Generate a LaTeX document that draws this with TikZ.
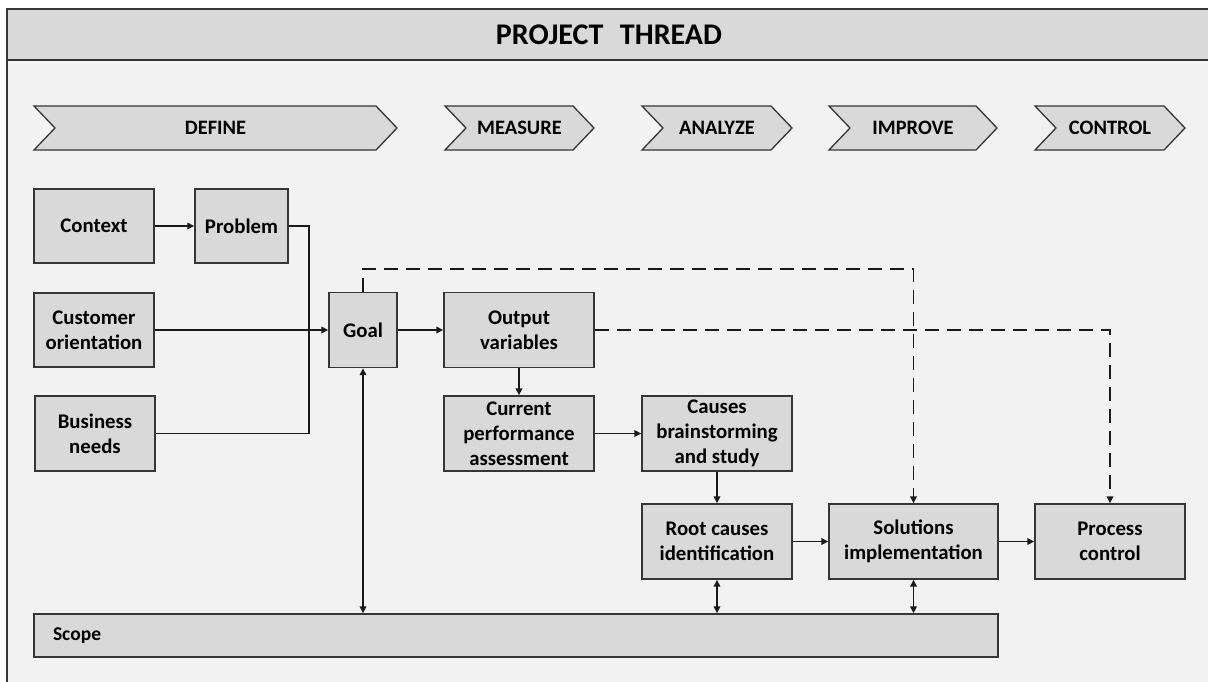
\documentclass[tikz,border=0pt]{standalone}
\usepackage{fontspec}
\setmainfont{Carlito}
\usetikzlibrary{arrows.meta,calc}

\definecolor{bandgray}{HTML}{D9D9D9}
\definecolor{bodygray}{HTML}{F2F2F2}
\definecolor{boxgray}{HTML}{D9D9D9}
\definecolor{edgegray}{HTML}{363636}
\definecolor{linedark}{HTML}{1A1A1A}

\tikzset{
  box/.style={draw=edgegray, fill=boxgray, line width=1.4pt, align=center,
    inner sep=0pt, font=\bfseries\fontsize{20.8}{25}\selectfont},
  chevron/.style={draw=edgegray, fill=boxgray, line width=1.3pt},
  phaselabel/.style={font=\bfseries\fontsize{20.5}{24}\selectfont},
  conn/.style={draw=linedark, line width=1.8pt},
  arr/.style={conn, -{Triangle[length=7pt,width=6.5pt]}},
  biarr/.style={conn, {Triangle[length=7pt,width=6.5pt]}-{Triangle[length=7pt,width=6.5pt]}},
  dashline/.style={dash pattern=on 14pt off 8pt},
}

% phase chevron: left x, right x, label, node name
\newcommand{\phasechevron}[4]{%
  \draw[chevron] (#1,106) -- ({#2-21},106) -- (#2,128) -- ({#2-21},150)
    -- (#1,150) -- ({#1+21},128) -- cycle;
  \node[phaselabel] (#4) at ({(#1+#2)/2},128) {#3};
}

\begin{document}
\begin{tikzpicture}[x=1pt,y=-1pt]
\useasboundingbox (0,0) rectangle (1208,681);
\fill[white] (0,0) rectangle (1208,681);

\begin{scope}
\clip (0,0) rectangle (1208,681);
% outer frame and title band
\draw[edgegray, fill=bodygray, line width=1.5pt] (7,9) rectangle (1220,700);
\draw[edgegray, fill=bandgray, line width=1.5pt] (7,9) rectangle (1220,60);
\end{scope}
\node[font=\bfseries\fontsize{30}{34}\selectfont] (title) at (609,35)
  {PROJECT\hspace{0.55em}THREAD};

% DMAIC phases
\phasechevron{34}{397}{DEFINE}{define}
\phasechevron{445}{594}{MEASURE}{measure}
\phasechevron{642}{792}{ANALYZE}{analyze}
\phasechevron{829}{997}{IMPROVE}{improve}
\phasechevron{1035}{1185}{CONTROL}{control}

% process boxes
\node[box, minimum width=120pt, minimum height=74pt] (context)   at (94,226)    {Context};
\node[box, minimum width=93pt,  minimum height=74pt] (problem)   at (241.5,226) {Problem};
\node[box, minimum width=120pt, minimum height=74pt] (customer)  at (94,330)    {Customer\\orientation};
\node[box, minimum width=120pt, minimum height=75pt] (business)  at (95,433.5)  {Business\\needs};
\node[box, minimum width=68pt,  minimum height=75pt] (goal)      at (363,330)   {Goal};
\node[box, minimum width=150pt, minimum height=75pt] (output)    at (519,330)   {Output\\variables};
\node[box, minimum width=150pt, minimum height=75pt] (current)   at (519,433.5) {Current\\performance\\assessment};
\node[box, minimum width=150pt, minimum height=75pt] (causes)    at (717,433.5) {Causes\\brainstorming\\and study};
\node[box, minimum width=150pt, minimum height=75pt] (root)      at (717,541.5) {Root causes\\identification};
\node[box, minimum width=169pt, minimum height=75pt] (solutions) at (913.5,541.5) {Solutions\\implementation};
\node[box, minimum width=150pt, minimum height=75pt] (process)   at (1110,541.5) {Process\\control};
\node[box, minimum width=964pt, minimum height=43pt, text width=926pt,
      align=left, inner xsep=19pt, font=\bfseries\fontsize{19.5}{23}\selectfont]
      (scope) at (516,635.5) {Scope};

% solid flow
\coordinate (merge) at (309,433.5);
\draw[arr] (context) -- (problem);
\draw[conn] (problem.east) -| (merge) -- (business.east);
\draw[arr] (customer) -- (goal);
\draw[arr] (goal) -- (output);
\draw[arr] (output) -- (current);
\draw[arr] (current) -- (causes);
\draw[arr] (causes) -- (root);
\draw[arr] (root) -- (solutions);
\draw[arr] (solutions) -- (process);

% dashed feed-forward links
\coordinate (goalup) at (363,269);
\draw[arr, dashline] (goal.north) -- (goalup) -| (solutions.north);
\draw[arr, dashline] (output.east) -| (process.north);

% links with the scope bar
\draw[biarr] (goal.south) -- (goal.south |- scope.north);
\draw[biarr] (root.south) -- (root.south |- scope.north);
\draw[biarr] (solutions.south) -- (solutions.south |- scope.north);
\end{tikzpicture}
\end{document}
